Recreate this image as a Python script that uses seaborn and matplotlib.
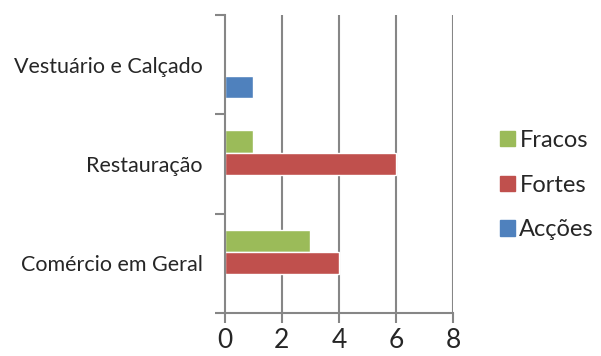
import numpy as np
import pandas as pd
import seaborn as sns
import matplotlib.pyplot as plt
from matplotlib.patches import Patch

# DATA
CATEGORIES = ['Vestuário e Calçado', 'Restauração', 'Comércio em Geral']
SERIES = ['Fracos', 'Fortes', 'Acções']
FRACOS = [0, 1, 3]
FORTES = [0, 6, 4]
ACCOES = [1, 0, 0]
X_TICKS = [0, 2, 4, 6, 8]
COLORS = {'Fracos': '#9BBB59', 'Fortes': '#C0504D', 'Acções': '#4F81BD'}

sns.set_style('white')
plt.rcParams['font.family'] = ['Lato', 'DejaVu Sans']

df = pd.DataFrame({
    'categoria': CATEGORIES * 3,
    'serie': ['Fracos'] * 3 + ['Fortes'] * 3 + ['Acções'] * 3,
    'valor': FRACOS + FORTES + ACCOES,
})

fig = plt.figure(figsize=(6.01, 3.56), dpi=100)
ax = fig.add_axes([0.374, 0.121, 0.380, 0.837])

sns.barplot(data=df, y='categoria', x='valor', hue='serie', order=CATEGORIES,
            hue_order=SERIES, palette=COLORS, orient='h', width=0.675,
            saturation=1, ax=ax, legend=False)

ax.set_xlim(0, 8)
ax.set_ylim(2.5, -0.5)
ax.set_xticks(X_TICKS)
ax.set_xticklabels([str(t) for t in X_TICKS], fontsize=19)
ax.set_xlabel('')
ax.set_ylabel('')
ax.tick_params(axis='y', which='major', left=False, length=0, labelsize=15.5, pad=16)
ax.set_yticks([-0.5, 0.5, 1.5, 2.5], minor=True)
ax.tick_params(axis='y', which='minor', left=True, length=7, width=1.5, color='#868686')
ax.tick_params(axis='x', bottom=True, length=7, width=1.5, color='#868686', pad=4)

ax.grid(False)
for t in X_TICKS[1:]:
    ax.axvline(t, color='#868686', lw=1.5, zorder=0)
for s in ['top', 'right']:
    ax.spines[s].set_visible(False)
for s in ['left', 'bottom']:
    ax.spines[s].set_color('#868686')
    ax.spines[s].set_linewidth(1.5)

handles = [Patch(color=COLORS[s], label=s) for s in SERIES]
fig.legend(handles=handles, loc='center left', bbox_to_anchor=(0.832, 0.48),
           frameon=False, fontsize=17, handlelength=0.62, handleheight=0.62,
           handletextpad=0.2, labelspacing=1.0, borderaxespad=0, borderpad=0)

fig.savefig('out.png', dpi=100)
